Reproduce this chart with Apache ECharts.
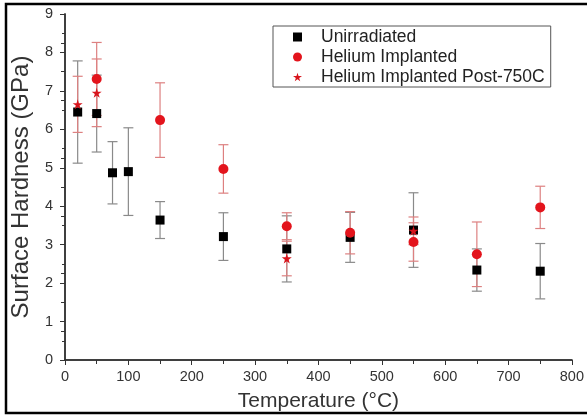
<!DOCTYPE html>
<html>
<head>
<meta charset="utf-8">
<script src="https://cdn.jsdelivr.net/npm/echarts@6/dist/echarts.min.js"></script>
<style>
  html, body { margin: 0; padding: 0; background: #fff; }
  #chart { width: 587px; height: 417px; }
</style>
</head>
<body>
<div id="chart"></div>
<script>
// values (temperature in °C, hardness in GPa, +/- error)
var unirrTemp = [20, 50, 75, 100, 150, 250, 350, 450, 550, 650, 750];
var unirrVal  = [6.45, 6.41, 4.87, 4.90, 3.64, 3.21, 2.89, 3.19, 3.38, 2.34, 2.31];
var unirrErr  = [1.33, 1.00, 0.81, 1.14, 0.48, 0.62, 0.86, 0.65, 0.97, 0.55, 0.72];

var heTemp = [50, 150, 250, 350, 450, 550, 650, 750];
var heVal  = [7.31, 6.24, 4.97, 3.48, 3.31, 3.07, 2.75, 3.97];
var heErr  = [0.95, 0.97, 0.63, 0.35, 0.55, 0.50, 0.84, 0.55];

var postTemp = [20, 50, 350, 550];
var postVal  = [6.65, 6.95, 2.64, 3.36];
var postErr  = [0.73, 0.88, 0.45, 0.36];

var seriesNames = ['Unirradiated', 'Helium Implanted', 'Helium Implanted Post-750C'];
var xTitle = 'Temperature (°C)';
var yTitle = 'Surface Hardness (GPa)';

var starPath = 'path://M50,0 L61,35 L98,35 L68,57 L79,91 L50,70 L21,91 L32,57 L2,35 L39,35 Z';
var font = 'Liberation Sans, Arial, sans-serif';

function pts(t, v) {
    var out = [];
    for (var i = 0; i < t.length; i++) out.push([t[i], v[i]]);
    return out;
}
function errPts(t, v, e) {
    var out = [];
    for (var i = 0; i < t.length; i++) out.push([t[i], v[i], e[i]]);
    return out;
}
function errRender(color) {
    return function (params, api) {
        var x = api.value(0), y = api.value(1), e = api.value(2);
        var hi = api.coord([x, y + e]);
        var lo = api.coord([x, y - e]);
        var cw = 5;
        var st = { stroke: color, lineWidth: 1.2 };
        return {
            type: 'group',
            children: [
                { type: 'line', shape: { x1: hi[0], y1: hi[1], x2: lo[0], y2: lo[1] }, style: st },
                { type: 'line', shape: { x1: hi[0] - cw, y1: hi[1], x2: hi[0] + cw, y2: hi[1] }, style: st },
                { type: 'line', shape: { x1: lo[0] - cw, y1: lo[1], x2: lo[0] + cw, y2: lo[1] }, style: st }
            ]
        };
    };
}

var axisLine = { show: true, lineStyle: { color: '#333', width: 1.5 } };

var option = {
    animation: false,
    backgroundColor: '#fff',
    grid: { left: 65, right: 15, top: 14, bottom: 55 },
    legend: {
        orient: 'vertical',
        left: 273,
        top: 26,
        padding: [2, 6, 1, 20],
        itemGap: 2,
        itemWidth: 9,
        itemHeight: 9,
        borderColor: '#555',
        borderWidth: 1,
        backgroundColor: '#fff',
        textStyle: { fontFamily: font, fontSize: 17.5, color: '#222', lineHeight: 17, padding: [0, 0, 0, 14] },
        data: [
            { name: seriesNames[0], icon: 'rect' },
            { name: seriesNames[1], icon: 'circle' },
            { name: seriesNames[2], icon: starPath }
        ]
    },
    xAxis: [
        {
            type: 'value', position: 'bottom', min: 0, max: 800, interval: 100,
            axisLine: axisLine,
            axisTick: { show: true, length: 5, lineStyle: { color: '#333' } },
            minorTick: { show: true, splitNumber: 2, length: 3, lineStyle: { color: '#333' } },
            splitLine: { show: false },
            axisLabel: { fontFamily: font, fontSize: 14.5, color: '#333', margin: 9 },
            name: xTitle, nameLocation: 'middle', nameGap: 31,
            nameTextStyle: { fontFamily: font, fontSize: 21, color: '#333' }
        },
        {
            type: 'value', position: 'top', min: 0, max: 800, interval: 50,
            axisLine: axisLine,
            axisTick: { show: true, inside: true, length: 4, lineStyle: { color: '#333' } },
            axisLabel: { show: false },
            splitLine: { show: false }
        }
    ],
    yAxis: [
        {
            type: 'value', position: 'left', min: 0, max: 9, interval: 1,
            axisLine: axisLine,
            axisTick: { show: true, length: 5, lineStyle: { color: '#333' } },
            minorTick: { show: true, splitNumber: 2, length: 3, lineStyle: { color: '#333' } },
            splitLine: { show: false },
            axisLabel: { fontFamily: font, fontSize: 14.5, color: '#333', margin: 12 },
            name: yTitle, nameLocation: 'middle', nameGap: 32,
            nameTextStyle: { fontFamily: font, fontSize: 24, color: '#333' }
        },
        {
            type: 'value', position: 'right', min: 0, max: 9, interval: 0.75,
            axisLine: axisLine,
            axisTick: { show: true, inside: true, length: 4, lineStyle: { color: '#333' } },
            axisLabel: { show: false },
            splitLine: { show: false }
        }
    ],
    graphic: [
        {
            type: 'polyline',
            shape: { points: [[587, 4], [6, 4], [6, 413], [587, 413]] },
            style: { stroke: '#000', lineWidth: 2.5, fill: null },
            z: 100
        }
    ],
    series: [
        { type: 'custom', name: 'errU', data: errPts(unirrTemp, unirrVal, unirrErr), renderItem: errRender('#8a8a8a'), z: 1 },
        { type: 'custom', name: 'errH', data: errPts(heTemp, heVal, heErr), renderItem: errRender('#dd8080'), z: 1 },
        { type: 'custom', name: 'errP', data: errPts(postTemp, postVal, postErr), renderItem: errRender('#dd8080'), z: 1 },
        {
            name: seriesNames[0], type: 'scatter', symbol: 'rect', symbolSize: 9,
            itemStyle: { color: '#000', opacity: 1 }, data: pts(unirrTemp, unirrVal), z: 3
        },
        {
            name: seriesNames[1], type: 'scatter', symbol: 'circle', symbolSize: 10,
            itemStyle: { color: '#e3141c', opacity: 1 }, data: pts(heTemp, heVal), z: 4
        },
        {
            name: seriesNames[2], type: 'scatter', symbol: starPath, symbolSize: 10,
            itemStyle: { color: '#d8141c', opacity: 1 }, data: pts(postTemp, postVal), z: 5
        }
    ]
};

var myChart = echarts.init(document.getElementById('chart'));
myChart.setOption(option);
</script>
</body>
</html>
